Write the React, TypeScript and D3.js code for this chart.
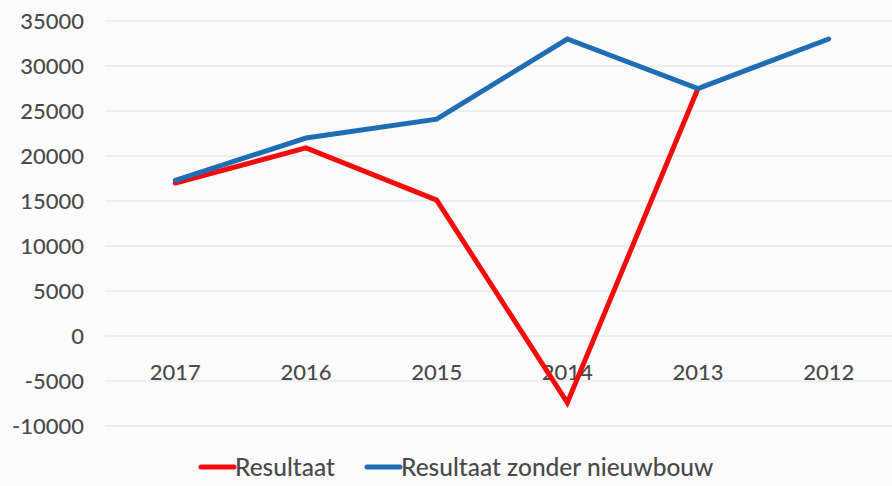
import React, {useEffect, useRef} from "react"
import * as d3 from "d3"

const years = ["2017", "2016", "2015", "2014", "2013", "2012"]
const resultaat: Array<number | null> = [17000, 20900, 15100, -7400, 27500, null]
const zonderNieuwbouw: Array<number | null> = [17300, 22000, 24100, 33000, 27500, 33000]
const yTicks = [35000, 30000, 25000, 20000, 15000, 10000, 5000, 0, -5000, -10000]

const series = [
    {name: "Resultaat", values: resultaat, color: "#f20d0d"},
    {name: "Resultaat zonder nieuwbouw", values: zonderNieuwbouw, color: "#1f6db5"},
]

const width = 892
const height = 486
const margin = {top: 21, right: -2, bottom: 60, left: 110}
const font = "Lato, 'Open Sans', sans-serif"

const App = () => {
    const ref = useRef<SVGSVGElement>(null)

    useEffect(() => {
        const svg = d3.select(ref.current)
        svg.selectAll("*").remove()

        const x = d3.scaleBand()
            .domain(years)
            .range([margin.left, width - margin.right])
        const y = d3.scaleLinear()
            .domain([-10000, 35000])
            .range([height - margin.bottom, margin.top])

        svg.append("rect").attr("width", width).attr("height", height).attr("fill", "#fbfbfb")

        // gridlines
        svg.append("g")
            .selectAll("line")
            .data(yTicks)
            .join("line")
            .attr("x1", margin.left - 5)
            .attr("x2", width)
            .attr("y1", d => y(d))
            .attr("y2", d => y(d))
            .attr("stroke", "#e8e8e8")
            .attr("stroke-width", 1.5)

        svg.append("g")
            .selectAll("text")
            .data(yTicks)
            .join("text")
            .attr("x", 84)
            .attr("y", d => y(d))
            .attr("dy", "0.35em")
            .attr("text-anchor", "end")
            .attr("font-family", font)
            .attr("font-size", 22)
            .attr("font-weight", 500)
            .attr("fill", "#4a4a4a")
            .text(d => d)

        svg.append("g")
            .selectAll("text")
            .data(years)
            .join("text")
            .attr("x", d => x(d)! + x.bandwidth() / 2)
            .attr("y", y(0) + 36)
            .attr("dy", "0.35em")
            .attr("text-anchor", "middle")
            .attr("font-family", font)
            .attr("font-size", 22)
            .attr("font-weight", 500)
            .attr("fill", "#4a4a4a")
            .text(d => d)

        const line = d3.line<number | null>()
            .defined(d => d !== null)
            .x((_, i) => x(years[i])! + x.bandwidth() / 2)
            .y(d => y(d as number))

        series.forEach(s => {
            svg.append("path")
                .datum(s.values)
                .attr("d", line)
                .attr("fill", "none")
                .attr("stroke", s.color)
                .attr("stroke-width", 5)
                .attr("stroke-linejoin", "miter")
                .attr("stroke-linecap", "round")
        })

        // legend
        const legendX = [201, 367]
        const legend = svg.append("g")
        series.forEach((s, i) => {
            legend.append("line")
                .attr("x1", legendX[i])
                .attr("x2", legendX[i] + 33)
                .attr("y1", 467)
                .attr("y2", 467)
                .attr("stroke", s.color)
                .attr("stroke-width", 5)
                .attr("stroke-linecap", "round")
            legend.append("text")
                .attr("x", legendX[i] + 34)
                .attr("y", 467)
                .attr("dy", "0.35em")
                .attr("font-family", font)
                .attr("font-size", 24.5)
                .attr("font-weight", 500)
                .attr("fill", "#4a4a4a")
                .text(s.name)
        })
    }, [])

    return (
        <svg ref={ref} width={width} height={height} style={{display: "block", position: "absolute", left: 0, top: 0}}/>
    )
}

export default App
